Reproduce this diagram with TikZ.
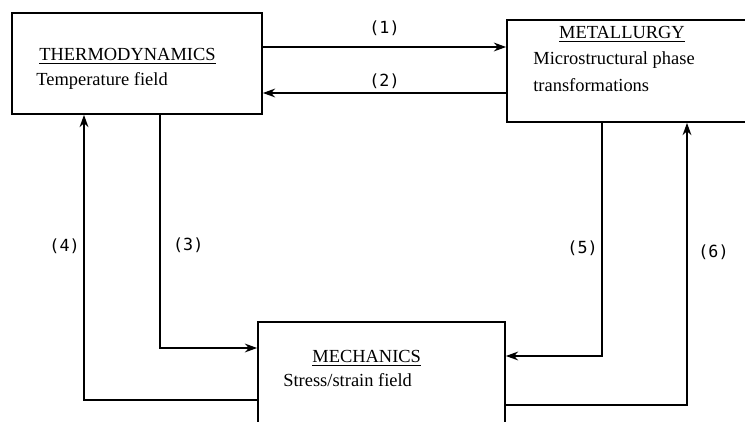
\documentclass[tikz,border=0pt]{standalone}
\usepackage{fontspec}
\setmainfont{Liberation Serif}
\newfontfamily\tagfont{DejaVu Sans Mono}
\usetikzlibrary{arrows.meta}

\begin{document}
\begin{tikzpicture}[x=0.02cm, y=-0.02cm,
        block/.style={
            % The shape:
            rectangle,
            inner sep=0pt,
            % The border
            line width=1pt,
            draw=black,
            % The filling
            fill=white
        },
        caption/.style={
            inner sep=0pt,
            font=\fontsize{10.5}{12}\selectfont
        },
        flow/.style={line width=1pt, -{Stealth[length=7pt,width=5pt]}},
        tag/.style={inner sep=1pt, font=\tagfont\fontsize{9.5}{11}\selectfont}]

    \useasboundingbox (0,0) rectangle (745,422);
    \clip (0,0) rectangle (745,422);

    % the three boxes
    \node [block, minimum width=5cm, minimum height=2.02cm] (thermo) at (137,63.5) {};
    \node [block, minimum width=5.06cm, minimum height=2.04cm] (metal) at (633.5,71) {};
    \node [block, minimum width=4.94cm, minimum height=2.36cm] (mech) at (381.5,381) {};

    \node [caption, anchor=base west] (thermohead) at (39,61) {\underline{THERMODYNAMICS}};
    \node [caption, anchor=base west] (thermotext) at (36,86) {Temperature field};
    \node [caption, anchor=base] (metalhead) at (622,39) {\underline{METALLURGY}};
    \node [caption, anchor=base west] (metaltext) at (533,65) {Microstructural phase};
    \node [caption, anchor=base west] (metaltextb) at (533,92) {transformations};
    \node [caption, anchor=base west] (mechhead) at (312,363) {\underline{MECHANICS}};
    \node [caption, anchor=base west] (mechtext) at (283,387) {Stress/strain field};

    % couplings
    \draw [flow] (thermo.east |- 0,47) -- node [tag, above=5pt] {(1)} (metal.west |- 0,47);
    \draw [flow] (metal.west |- 0,93) -- node [tag, above=1pt] {(2)} (thermo.east |- 0,93);
    \draw [flow] (thermo.south -| 160,0) |- node [tag, pos=0.28, right=6pt] {(3)} (mech.west |- 0,348);
    \draw [flow] (mech.west |- 0,400) -| node [tag, pos=0.77, left=1pt] {(4)} (thermo.south -| 84,0);
    \draw [flow] (metal.south -| 602,0) |- node [tag, pos=0.27, left=1pt] {(5)} (mech.east |- 0,356);
    \draw [flow] (mech.east |- 0,405) -| node [tag, pos=0.77, right=5pt] {(6)} (metal.south -| 687,0);

\end{tikzpicture}
\end{document}
